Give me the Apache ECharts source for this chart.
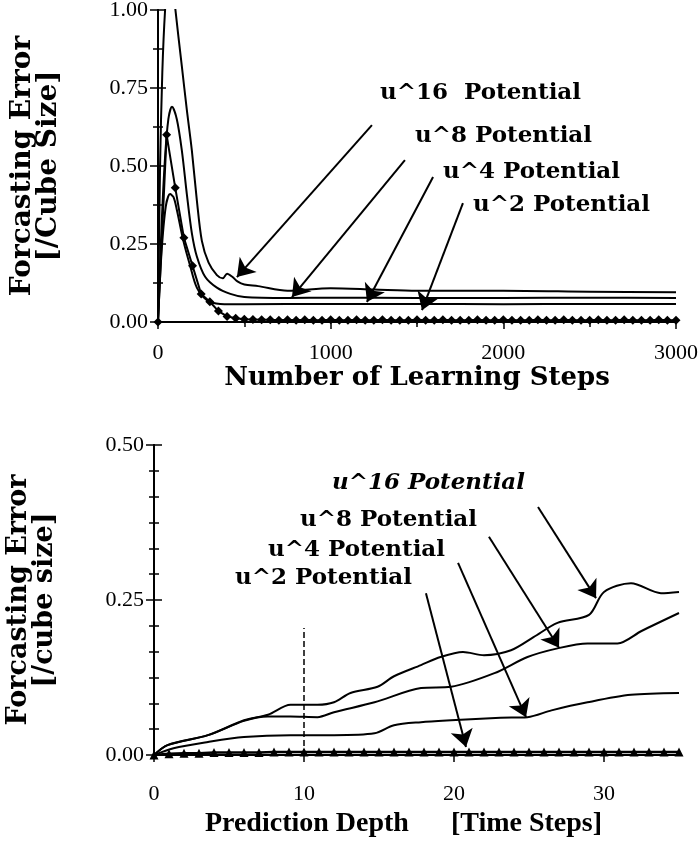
<!DOCTYPE html>
<html>
<head>
<meta charset="utf-8">
<script src="https://cdn.jsdelivr.net/npm/echarts@6/dist/echarts.min.js"></script>
<style>
  html, body { margin: 0; padding: 0; background: #fff; }
  #chart { width: 699px; height: 848px; }
</style>
</head>
<body>
<div id="chart"></div>
<script>
// 上图：学习步数 vs 预测误差
var stepsU16 = [0, 12, 25, 41, 60, 80, 99, 138, 167, 196, 225, 254, 293, 341, 375, 400, 430, 460, 500, 580, 750, 1000, 1250, 1500, 2000, 2500, 3000];
var errU16 = [0, 0.5, 0.8, 1.0, 1.12, 1.12, 1.01, 0.82, 0.68, 0.55, 0.39, 0.26, 0.19, 0.15, 0.14, 0.155, 0.145, 0.13, 0.12, 0.115, 0.10, 0.108, 0.104, 0.10, 0.10, 0.097, 0.095];
var stepsU8 = [0, 20, 40, 60, 81, 109, 138, 167, 196, 225, 273, 341, 419, 500, 750, 1000, 1500, 2000, 2500, 3000];
var errU8 = [0, 0.3, 0.52, 0.65, 0.69, 0.65, 0.55, 0.41, 0.285, 0.21, 0.145, 0.11, 0.09, 0.08, 0.077, 0.078, 0.077, 0.077, 0.078, 0.077];
var stepsU4 = [0, 20, 45, 70, 90, 109, 147, 186, 225, 283, 360, 500, 1000, 1500, 2000, 2500, 3000];
var errU4 = [0, 0.22, 0.37, 0.41, 0.4, 0.36, 0.26, 0.18, 0.11, 0.07, 0.058, 0.057, 0.058, 0.058, 0.057, 0.058, 0.058];
var stepsU2 = [0, 50, 100, 150, 200, 250, 300, 350, 400, 450, 500, 550, 600, 650, 700, 750, 800, 850, 900, 950,
  1000, 1050, 1100, 1150, 1200, 1250, 1300, 1350, 1400, 1450, 1500, 1550, 1600, 1650, 1700, 1750, 1800, 1850, 1900, 1950,
  2000, 2050, 2100, 2150, 2200, 2250, 2300, 2350, 2400, 2450, 2500, 2550, 2600, 2650, 2700, 2750, 2800, 2850, 2900, 2950, 3000];
var errU2 = [0, 0.60, 0.43, 0.27, 0.18, 0.09, 0.065, 0.035, 0.018, 0.012, 0.009, 0.008, 0.007, 0.007, 0.006, 0.007, 0.006, 0.007, 0.006, 0.006,
  0.007, 0.006, 0.006, 0.007, 0.006, 0.006, 0.007, 0.006, 0.006, 0.006, 0.007, 0.006, 0.006, 0.007, 0.006, 0.006, 0.006, 0.007, 0.006, 0.006,
  0.007, 0.006, 0.006, 0.006, 0.007, 0.006, 0.006, 0.007, 0.006, 0.006, 0.006, 0.007, 0.006, 0.006, 0.007, 0.006, 0.006, 0.006, 0.007, 0.006, 0.006];

// 下图：预测深度 vs 预测误差
var depthU16 = [0, 0.9, 3.6, 6, 7.6, 9.1, 10.9, 12, 13.1, 14.9, 16, 17.8, 19.1, 20.6, 22, 23.8, 25.3, 26.9, 29, 30, 31.8, 33.8, 35];
var depthErrU16 = [0, 0.016, 0.032, 0.056, 0.065, 0.081, 0.081, 0.085, 0.1, 0.11, 0.127, 0.145, 0.158, 0.166, 0.161, 0.169, 0.19, 0.213, 0.226, 0.263, 0.277, 0.261, 0.263];
var depthU8 = [0, 0.9, 3.6, 6, 7.6, 9.1, 10.9, 12, 14.7, 17.8, 19.8, 22.7, 24.9, 26.9, 28.9, 30.9, 32.5, 35];
var depthErrU8 = [0, 0.016, 0.032, 0.055, 0.062, 0.062, 0.061, 0.069, 0.085, 0.108, 0.11, 0.132, 0.158, 0.172, 0.18, 0.18, 0.2, 0.229];
var depthU4 = [0, 1.3, 3.6, 6, 9.1, 12, 14.7, 16, 17.8, 19.8, 23.1, 24.9, 26.5, 28.9, 31.8, 35];
var depthErrU4 = [0, 0.011, 0.021, 0.029, 0.032, 0.032, 0.035, 0.048, 0.053, 0.056, 0.06, 0.061, 0.072, 0.085, 0.097, 0.1];
var depthU2 = [0, 1, 2, 3, 4, 5, 6, 7, 8, 9, 10, 11, 12, 13, 14, 15, 16, 17, 18, 19, 20, 21, 22, 23, 24, 25, 26, 27, 28, 29, 30, 31, 32, 33, 34, 35];
var depthErrU2 = [0, 0.002, 0.003, 0.003, 0.004, 0.004, 0.004, 0.004, 0.005, 0.005, 0.005, 0.005, 0.005, 0.005, 0.005, 0.005, 0.005, 0.005,
  0.005, 0.005, 0.005, 0.005, 0.005, 0.005, 0.005, 0.005, 0.005, 0.005, 0.005, 0.005, 0.005, 0.005, 0.005, 0.005, 0.005, 0.005];

// 标注文字
var topLabels = ['u^16  Potential', 'u^8 Potential', 'u^4 Potential', 'u^2 Potential'];
var bottomLabels = ['u^16 Potential', 'u^8 Potential', 'u^4 Potential', 'u^2 Potential'];
// 箭头 [起点, 终点]（数据坐标）
var topArrows = [
  [[1239, 0.631], [457, 0.144]],
  [[1430, 0.519], [776, 0.080]],
  [[1593, 0.465], [1210, 0.064]],
  [[1766, 0.381], [1529, 0.038]]
];
var bottomArrows = [
  [[25.6, 0.40], [29.47, 0.253]],
  [[22.33, 0.352], [27.0, 0.173]],
  [[20.27, 0.31], [24.8, 0.061]],
  [[18.13, 0.261], [20.8, 0.013]]
];
var dashedMark = [[10, 0], [10, 0.205]];

var serif = '"Liberation Serif", "Times New Roman", serif';
var boldSerif = '"DejaVu Serif", serif';

function zip(xs, ys) {
  return xs.map(function (x, i) { return [x, ys[i]]; });
}

function arrowLines(list) {
  return list.map(function (a) {
    return [{ coord: a[0] }, { coord: a[1] }];
  });
}

function plainLine(name, xi, yi, data) {
  return {
    name: name,
    type: 'line',
    xAxisIndex: xi,
    yAxisIndex: yi,
    smooth: 0.3,
    showSymbol: false,
    lineStyle: { color: '#000', width: 2 },
    data: data
  };
}

function valueX(idx, max, interval, minor, margin, gap, nameFont, name) {
  return {
    type: 'value',
    gridIndex: idx,
    min: 0,
    max: max,
    interval: interval,
    position: 'bottom',
    name: name,
    nameLocation: 'middle',
    nameGap: gap,
    nameTextStyle: nameFont,
    axisLine: { lineStyle: { color: '#000', width: 2 } },
    axisTick: { show: true, inside: false, length: 7, lineStyle: { color: '#000', width: 1.5 } },
    minorTick: { show: minor > 0, splitNumber: minor || 5, length: 5, lineStyle: { color: '#000', width: 1.5 } },
    axisLabel: {
      color: '#000', fontFamily: serif, fontSize: 22, margin: margin, showMaxLabel: max === 3000,
      formatter: function (v) { return String(v); }
    },
    splitLine: { show: false }
  };
}

function frameX(idx, max) {
  return {
    type: 'value', gridIndex: idx, min: 0, max: max, position: 'top',
    axisLine: { lineStyle: { color: '#000', width: 2 } },
    axisTick: { show: false }, axisLabel: { show: false }, splitLine: { show: false }
  };
}

function valueY(idx, max, minor, pos, name, fs) {
  return {
    type: 'value',
    gridIndex: idx,
    min: 0,
    max: max,
    interval: 0.25,
    position: pos,
    name: name,
    nameLocation: 'middle',
    nameRotate: 90,
    nameGap: 96,
    nameTextStyle: { fontFamily: boldSerif, fontWeight: 'bold', fontSize: fs, color: '#000', lineHeight: 26 },
    axisLine: { show: true, lineStyle: { color: '#000', width: 2 } },
    axisTick: { show: true, inside: true, length: 8, lineStyle: { color: '#000', width: 1.5 } },
    minorTick: { show: true, splitNumber: minor, length: 5, lineStyle: { color: '#000', width: 1.5 } },
    axisLabel: {
      show: pos === 'left', color: '#000', fontFamily: serif, fontSize: 22, margin: 10,
      formatter: function (v) { return v.toFixed(2); }
    },
    splitLine: { show: false }
  };
}

function labelTexts(labels, xs, ys, italic) {
  return labels.map(function (t, i) {
    return {
      type: 'text',
      x: xs[i],
      y: ys[i],
      style: {
        text: t,
        font: (italic && i === 0 ? 'italic ' : '') + 'bold 23px ' + boldSerif,
        fill: '#000',
        verticalAlign: 'middle'
      }
    };
  });
}

function arrowMark(list, extra) {
  return {
    silent: true,
    symbol: ['none', 'arrow'],
    symbolSize: 17,
    label: { show: false },
    lineStyle: { color: '#000', width: 2, type: 'solid' },
    data: arrowLines(list).concat(extra)
  };
}

var chart = echarts.init(document.getElementById('chart'));

chart.setOption({
  animation: false,
  backgroundColor: '#fff',
  grid: [
    { left: 158, right: 23, top: 10, bottom: 526, outerBoundsMode: 'none' },
    { left: 154, right: 20, top: 445, bottom: 93, outerBoundsMode: 'none' }
  ],
  xAxis: [
    valueX(0, 3000, 1000, 2, 20, 42,
      { fontFamily: boldSerif, fontWeight: 'bold', fontSize: 26, color: '#000' },
      'Number of Learning Steps'),
    frameX(0, 3000),
    valueX(1, 35, 10, 0, 28, 55,
      { fontFamily: serif, fontWeight: 'bold', fontSize: 28, color: '#000', padding: [0, 26, 0, 0] },
      'Prediction Depth      [Time Steps]'),
    frameX(1, 35)
  ],
  yAxis: [
    valueY(0, 1, 2, 'left', 'Forcasting Error\n[/Cube Size]', 28),
    valueY(0, 1, 2, 'right', '', 28),
    valueY(1, 0.5, 6, 'left', 'Forcasting Error\n[/cube size]', 27),
    valueY(1, 0.5, 6, 'right', '', 27)
  ],
  graphic: labelTexts(topLabels, [380, 415, 443, 473], [93, 136, 172, 205], false)
    .concat(labelTexts(bottomLabels, [332, 300, 268, 235], [483, 520, 550, 578], true)),
  series: [
    plainLine('u^16 Potential', 0, 0, zip(stepsU16, errU16)),
    plainLine('u^8 Potential', 0, 0, zip(stepsU8, errU8)),
    plainLine('u^4 Potential', 0, 0, zip(stepsU4, errU4)),
    {
      name: 'u^2 Potential',
      type: 'line',
      xAxisIndex: 0,
      yAxisIndex: 0,
      symbol: 'diamond',
      symbolSize: 9,
      itemStyle: { color: '#000' },
      lineStyle: { color: '#000', width: 2 },
      data: zip(stepsU2, errU2),
      markLine: arrowMark(topArrows, [])
    },
    plainLine('u^16 Potential', 2, 2, zip(depthU16, depthErrU16)),
    plainLine('u^8 Potential', 2, 2, zip(depthU8, depthErrU8)),
    plainLine('u^4 Potential', 2, 2, zip(depthU4, depthErrU4)),
    {
      name: 'u^2 Potential',
      type: 'line',
      xAxisIndex: 2,
      yAxisIndex: 2,
      symbol: 'triangle',
      symbolSize: 9,
      itemStyle: { color: '#000' },
      lineStyle: { color: '#000', width: 2.5 },
      data: zip(depthU2, depthErrU2),
      markLine: arrowMark(bottomArrows, [[
        { coord: dashedMark[0], symbol: 'none', lineStyle: { type: 'dashed', width: 1.5 } },
        { coord: dashedMark[1], symbol: 'none' }
      ]])
    }
  ]
});
</script>
</body>
</html>
